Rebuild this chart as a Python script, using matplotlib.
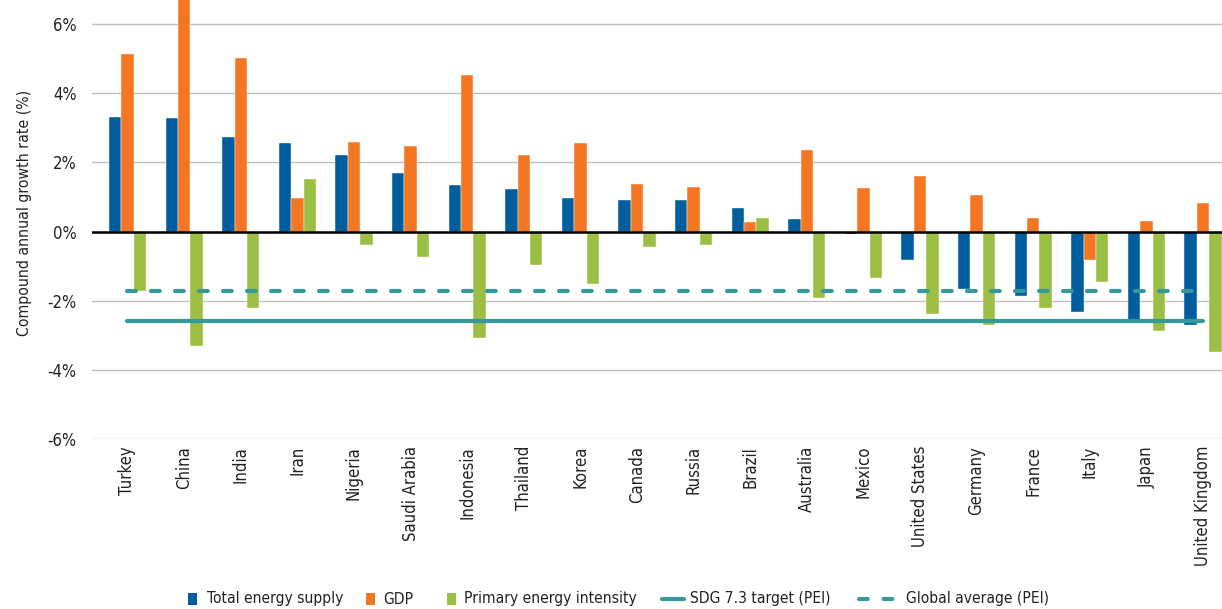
import matplotlib
matplotlib.use("Agg")
import matplotlib.pyplot as plt
import numpy as np
from matplotlib.lines import Line2D
from matplotlib.patches import Rectangle
from matplotlib import font_manager as fm

countries = ["Turkey", "China", "India", "Iran", "Nigeria", "Saudi Arabia", "Indonesia",
             "Thailand", "Korea", "Canada", "Russia", "Brazil", "Australia", "Mexico",
             "United States", "Germany", "France", "Italy", "Japan", "United Kingdom"]
tes = [3.31, 3.28, 2.73, 2.57, 2.21, 1.70, 1.34, 1.23, 0.98, 0.91, 0.91, 0.68, 0.36,
       -0.08, -0.82, -1.65, -1.85, -2.32, -2.58, -2.71]
gdp = [5.13, 7.0, 5.01, 0.98, 2.60, 2.49, 4.53, 2.21, 2.57, 1.38, 1.30, 0.28, 2.36,
       1.26, 1.62, 1.06, 0.40, -0.82, 0.32, 0.83]
pei = [-1.72, -3.30, -2.20, 1.53, -0.38, -0.74, -3.07, -0.98, -1.53, -0.46, -0.38, 0.40,
       -1.93, -1.33, -2.39, -2.71, -2.20, -1.45, -2.87, -3.49]
sdg_target = -2.60
global_avg = -1.73
yticks = [-6, -4, -2, 0, 2, 4, 6]
legend_labels = ["Total energy supply", "GDP", "Primary energy intensity",
                 "SDG 7.3 target (PEI)", "Global average (PEI)"]

C_BLUE = "#005E9E"
C_ORANGE = "#F37722"
C_GREEN = "#9BBE44"
C_TEAL = "#35999B"
C_TEXT = "#222222"

# pick a condensed font if one is installed
names = {f.name for f in fm.fontManager.ttflist}
condensed = [f for f in fm.fontManager.ttflist
             if f.name.startswith("DejaVu Sans") and str(f.stretch) in ("condensed", "semi-condensed", "75", "87")]
stretch = "normal"
scale = 1.0
if "Liberation Sans Narrow" in names:
    fam = "Liberation Sans Narrow"
    scale = 1.08
elif condensed:
    fam = "DejaVu Sans"
    stretch = "condensed"
else:
    fam = "DejaVu Sans"
    scale = 0.88
plt.rcParams['font.family'] = [fam, 'DejaVu Sans']
plt.rcParams['font.stretch'] = stretch

W, H = 1222, 609
fig = plt.figure(figsize=(W / 100, H / 100), dpi=100)
ax = fig.add_axes([92 / W, 1 - 439 / H, 1 - 92 / W, 439 / H])

n = len(countries)
x = np.arange(n)
w = 0.219
ax.bar(x - w, tes, w, color=C_BLUE, edgecolor="white", linewidth=0.3, zorder=3)
ax.bar(x, gdp, w, color=C_ORANGE, edgecolor="white", linewidth=0.3, zorder=3)
ax.bar(x + w, pei, w, color=C_GREEN, edgecolor="white", linewidth=0.3, zorder=3)

ax.plot([x[0], x[-1]], [sdg_target, sdg_target], color=C_TEAL, lw=3, zorder=4,
        solid_capstyle="round")
ax.plot([x[0], x[-1]], [global_avg, global_avg], color=C_TEAL, lw=3, zorder=4,
        dashes=(2.1, 3.66), dash_capstyle="round")

ax.axhline(0, color="black", lw=1.8, zorder=5)

ax.set_xlim(-0.627, 19.336)
ax.set_ylim(-6, 6.70)
ax.set_yticks(yticks)
ax.set_yticklabels([f"{t}%" for t in yticks], fontsize=12 * scale)
ax.yaxis.grid(True, color="#BFBFBF", lw=1.0, zorder=0)
ax.set_axisbelow(True)
ax.set_xticks(x)
ax.set_xticklabels(countries, rotation=90, fontsize=12 * scale)
ax.tick_params(axis="both", length=0, colors=C_TEXT)
ax.tick_params(axis="x", pad=5)
ax.tick_params(axis="y", pad=11)
for s in ax.spines.values():
    s.set_visible(False)

ax.set_ylabel("Compound annual growth rate (%)", fontsize=11.3 * scale, color=C_TEXT,
              labelpad=11)
ax.yaxis.label.set_y(0.516)

# legend drawn by hand to match the reference layout (pixel coordinates)
def fx(px):
    return px / W

def fy(py):
    return 1 - py / H

ly = 599
sq_w, sq_h = 9, 12
for x0, col in [(188, C_BLUE), (366, C_ORANGE), (447, C_GREEN)]:
    fig.add_artist(Rectangle((fx(x0), fy(ly + sq_h / 2)), sq_w / W, sq_h / H,
                             transform=fig.transFigure, facecolor=col, edgecolor="none"))
fig.add_artist(Line2D([fx(662), fx(684)], [fy(ly), fy(ly)], transform=fig.transFigure,
                      color=C_TEAL, lw=3, solid_capstyle="round"))
fig.add_artist(Line2D([fx(859), fx(894)], [fy(ly), fy(ly)], transform=fig.transFigure,
                      color=C_TEAL, lw=3, dashes=(2.1, 3.8), dash_capstyle="round"))
for tx, lab in zip([207, 383, 464, 690, 906], legend_labels):
    fig.text(fx(tx), fy(ly), lab, ha="left", va="center", fontsize=11.2 * scale,
             color=C_TEXT)

fig.savefig("out.png", dpi=100)
